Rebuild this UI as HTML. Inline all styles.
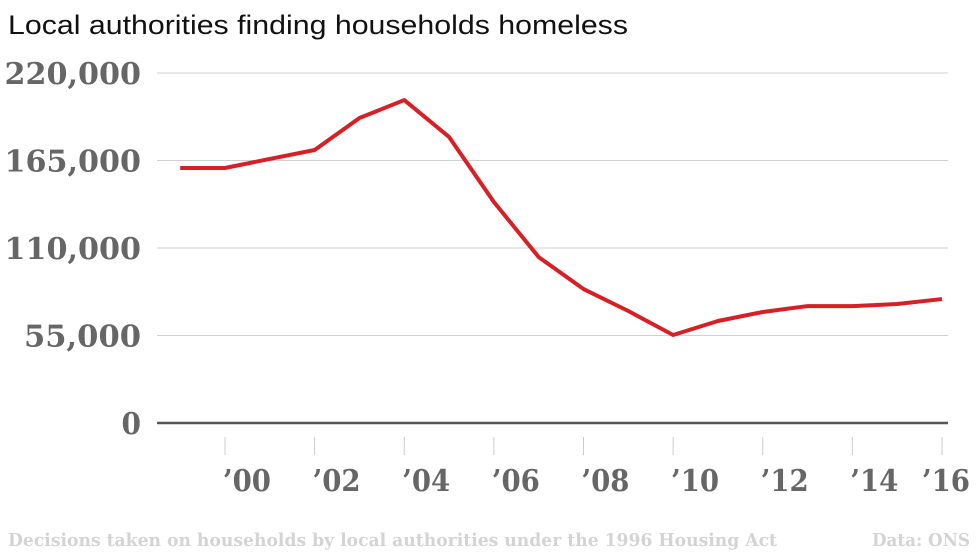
<!DOCTYPE html>
<html><head><meta charset="utf-8"><style>
body{margin:0;background:#fff;width:980px;height:551px;overflow:hidden;font-family:"Liberation Sans",sans-serif}
</style></head><body>
<svg width="980" height="551" id="svg">
<text x="8" y="34" font-size="27" fill="#111" textLength="620" lengthAdjust="spacingAndGlyphs">Local authorities finding households homeless</text>
<g id="grid"></g><g id="xax"></g>
<path id="line" fill="none" stroke="#d71f26" stroke-width="4" stroke-linejoin="round"/>
<text x="8" y="546" font-family="DejaVu Serif" font-weight="bold" font-size="18" fill="#d4d4d4" textLength="769" lengthAdjust="spacingAndGlyphs">Decisions taken on households by local authorities under the 1996 Housing Act</text>
<text x="872" y="546" font-family="DejaVu Serif" font-weight="bold" font-size="18" fill="#d4d4d4" textLength="98" lengthAdjust="spacingAndGlyphs">Data: ONS</text>
</svg>
<script>
const years=[1999,2000,2001,2002,2003,2004,2005,2006,2007,2008,2009,2010,2011,2012,2013,2014,2015,2016];
const values=[160300,160300,166000,171600,191700,203000,179800,138900,104300,84200,70400,55300,64100,69800,73500,73500,74800,77900];
const yTicks=[0,55000,110000,165000,220000];
const yLabels=["0","55,000","110,000","165,000","220,000"];
const xTicks=[2000,2002,2004,2006,2008,2010,2012,2014,2016];
const xLabels=["’00","’02","’04","’06","’08","’10","’12","’14","’16"];
const X=y=>225+(y-2000)*(942-225)/16;
const Y=v=>423-v/220000*350;
const NS="http://www.w3.org/2000/svg";
const grid=document.getElementById('grid'),xax=document.getElementById('xax');
yTicks.forEach((t,i)=>{
  const l=document.createElementNS(NS,'line');
  
  
  l.setAttribute('x1',157);l.setAttribute('x2',948);l.setAttribute('y1',Y(t));l.setAttribute('y2',Y(t));
  l.setAttribute('stroke',t===0?'#555':'#d0d0d0');l.setAttribute('stroke-width',t===0?2.5:1);
  grid.appendChild(l);
  const tx=document.createElementNS(NS,'text');
  
  
  tx.setAttribute('x',141);tx.setAttribute('y',Y(t)+11);tx.setAttribute('text-anchor','end');
  tx.setAttribute('font-family','DejaVu Serif');tx.setAttribute('font-weight','bold');tx.setAttribute('font-size','30');
  tx.setAttribute('fill','#666');tx.setAttribute('textLength',yLabels[i].length*19.5);tx.setAttribute('lengthAdjust','spacingAndGlyphs');
  tx.textContent=yLabels[i];grid.appendChild(tx);
});
xTicks.forEach((t,i)=>{
  const l=document.createElementNS(NS,'line');
  
  
  l.setAttribute('x1',X(t));l.setAttribute('x2',X(t));l.setAttribute('y1',437);l.setAttribute('y2',455);
  l.setAttribute('stroke','#ccc');xax.appendChild(l);
  const tx=document.createElementNS(NS,'text');
  
  
  tx.setAttribute('x',Math.min(X(t)-2,922));tx.setAttribute('y',491);
  tx.setAttribute('font-family','DejaVu Serif');tx.setAttribute('font-weight','bold');tx.setAttribute('font-size','30');
  tx.setAttribute('fill','#666');tx.setAttribute('textLength',48);tx.setAttribute('lengthAdjust','spacingAndGlyphs');
  tx.textContent=xLabels[i];xax.appendChild(tx);
});
document.getElementById('line').setAttribute('d',years.map((y,i)=>(i?'L':'M')+X(y)+','+Y(values[i])).join(''));
</script>
</body></html>
